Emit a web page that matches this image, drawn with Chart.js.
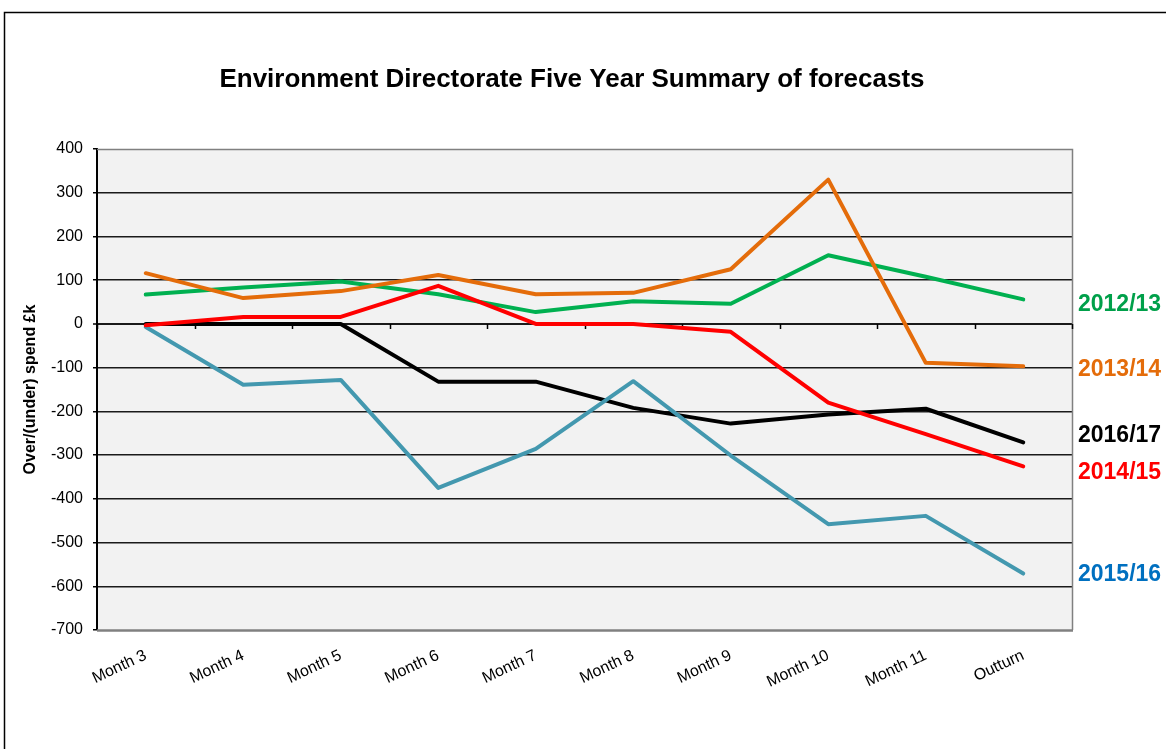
<!DOCTYPE html>
<html>
<head>
<meta charset="utf-8">
<script src="https://cdn.jsdelivr.net/npm/chart.js@4.4.1/dist/chart.umd.min.js"></script>
<style>
  html, body { margin: 0; padding: 0; background: #fff; }
</style>
</head>
<body>
<canvas id="forecasts" width="1166" height="749"></canvas>
<script>
// categories and series
const months = ['Month 3', 'Month 4', 'Month 5', 'Month 6', 'Month 7', 'Month 8', 'Month 9', 'Month 10', 'Month 11', 'Outturn'];
const fy1213 = [67, 83, 97, 68, 27, 52, 46, 157, 108, 56];
const fy1314 = [116, 59, 75, 112, 68, 71, 125, 330, -89, -97];
const fy1415 = [-3, 16, 16, 87, 0, 0, -18, -180, -252, -326];
const fy1516 = [-7, -139, -128, -375, -286, -131, -301, -458, -439, -571];
const fy1617 = [0, 0, 0, -132, -132, -192, -228, -207, -194, -271];

const yearNames = ['2012/13', '2013/14', '2014/15', '2015/16', '2016/17'];
const lineColours = ['#00B050', '#E46C0A', '#FF0000', '#4398AF', '#000000'];
const labelColours = ['#00A04A', '#E46C0A', '#FF0000', '#0070C0', '#000000'];
// label y positions (px) for the year tags at the right of the plot
const labelY = [305, 370, 473, 575, 436];

const chartTitle = 'Environment Directorate Five Year Summary of forecasts';
const FONT = "'Liberation Sans', Arial, sans-serif";

const frame = {
  id: 'frame',
  beforeDraw(chart) {
    const { ctx, chartArea: a } = chart;
    ctx.save();
    ctx.fillStyle = '#fff';
    ctx.fillRect(0, 0, chart.width, chart.height);
    ctx.strokeStyle = '#000';
    ctx.lineWidth = 1.5;
    ctx.strokeRect(4.5, 12.5, chart.width + 40, chart.height + 40);
    ctx.fillStyle = '#F2F2F2';
    ctx.fillRect(a.left, a.top, a.right - a.left, a.bottom - a.top);
    ctx.restore();
  },
  beforeDatasetsDraw(chart) {
    const { ctx, chartArea: a, scales } = chart;
    const x = scales.x, y = scales.y;
    ctx.save();
    // plot area border (grey, Excel style)
    ctx.strokeStyle = '#808080';
    ctx.lineWidth = 1.5;
    ctx.beginPath();
    ctx.moveTo(a.left, a.top + 0.5);
    ctx.lineTo(a.right + 0.5, a.top + 0.5);
    ctx.lineTo(a.right + 0.5, a.bottom);
    ctx.stroke();
    ctx.lineWidth = 2.5;
    ctx.beginPath();
    ctx.moveTo(a.left, a.bottom + 0.5);
    ctx.lineTo(a.right + 1, a.bottom + 0.5);
    ctx.stroke();
    // category tick marks on the zero line
    const y0 = Math.round(y.getPixelForValue(0));
    ctx.strokeStyle = '#000';
    ctx.lineWidth = 1.5;
    ctx.beginPath();
    for (let i = 0; i <= months.length; i++) {
      let px;
      if (i === 0) px = a.left;
      else if (i === months.length) px = a.right;
      else px = (x.getPixelForValue(i - 1) + x.getPixelForValue(i)) / 2;
      px = Math.round(px) + 0.5;
      ctx.moveTo(px, y0);
      ctx.lineTo(px, y0 + 5);
    }
    ctx.stroke();
    ctx.restore();
  },
  afterDraw(chart) {
    const { ctx } = chart;
    ctx.save();
    // title sits a little right of the plot centre, as in the sheet
    ctx.font = 'bold 26px ' + FONT;
    ctx.fillStyle = '#000';
    ctx.textAlign = 'center';
    ctx.textBaseline = 'middle';
    ctx.fillText(chartTitle, 572, 80);
    // year tags
    ctx.font = 'bold 23px ' + FONT;
    ctx.textAlign = 'left';
    yearNames.forEach((name, i) => {
      ctx.fillStyle = labelColours[i];
      ctx.fillText(name, 1078, labelY[i]);
    });
    ctx.restore();
  }
};

const series = [fy1213, fy1314, fy1415, fy1516, fy1617];
const drawOrder = [3, 2, 0, 1, 4]; // lower = drawn on top

new Chart(document.getElementById('forecasts'), {
  type: 'line',
  data: {
    labels: months,
    datasets: series.map((values, i) => ({
      label: yearNames[i],
      data: values,
      borderColor: lineColours[i],
      backgroundColor: lineColours[i],
      borderWidth: 4,
      borderCapStyle: 'round',
      borderJoinStyle: 'round',
      pointRadius: 0,
      tension: 0,
      fill: false,
      order: drawOrder[i]
    }))
  },
  options: {
    responsive: false,
    animation: false,
    devicePixelRatio: 1,
    layout: { padding: { left: 0, right: 94, top: 149, bottom: 0 } },
    plugins: {
      legend: { display: false },
      tooltip: { enabled: false },
      title: { display: false }
    },
    scales: {
      x: {
        offset: true,
        grid: { display: false, offset: true },
        border: { display: false },
        ticks: {
          color: '#000',
          font: { family: FONT, size: 16 },
          maxRotation: 25,
          minRotation: 25,
          padding: 8,
          autoSkip: false
        },
        afterFit(scale) { scale.height = 119; }
      },
      y: {
        min: -700,
        max: 400,
        ticks: {
          stepSize: 100,
          color: '#000',
          font: { family: FONT, size: 16 },
          padding: 10
        },
        grid: {
          color: (c) => (c.tick && (c.tick.value === 400 || c.tick.value === -700)) ? 'rgba(0,0,0,0)' : '#1a1a1a',
          lineWidth: (c) => (c.tick && c.tick.value === 0) ? 2 : 1.5,
          tickColor: '#000',
          tickLength: 4,
          tickWidth: 1.5
        },
        border: { display: true, color: '#000', width: 2 },
        title: {
          display: true,
          text: 'Over/(under) spend £k',
          color: '#000',
          font: { family: FONT, size: 16, weight: 'bold' },
          padding: { top: 21, bottom: 0 }
        },
        afterFit(scale) { scale.width = 97; }
      }
    }
  },
  plugins: [frame]
});
</script>
</body>
</html>
